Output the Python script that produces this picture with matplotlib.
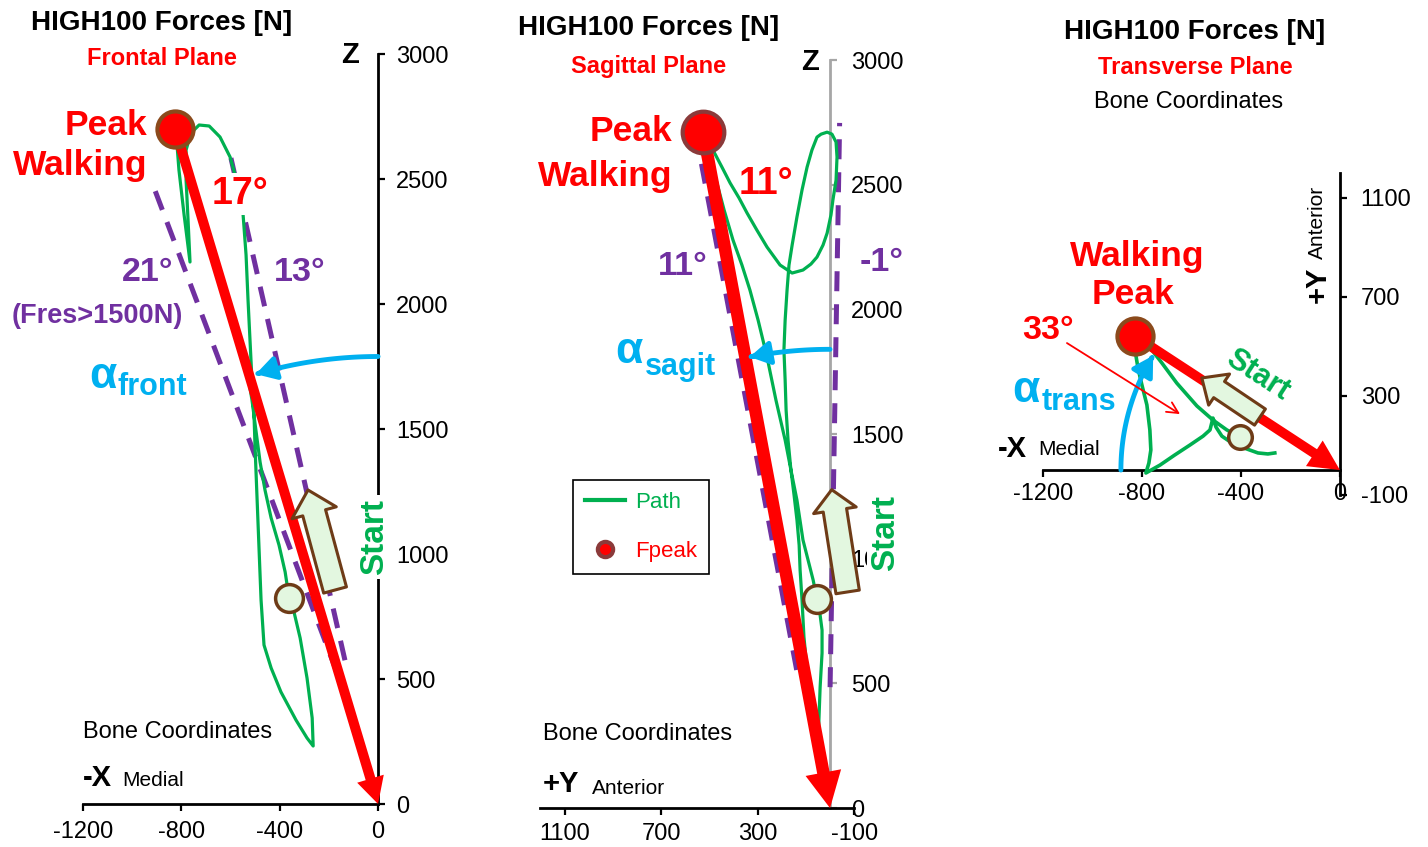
"""
HIGH100 - resultant knee force direction in three anatomical planes.
Frontal, sagittal and transverse projections of the force path during walking,
with the peak force vector, its angle and the angle range above 1500 N.
"""

import numpy as np
import matplotlib; matplotlib.use("Agg")
import matplotlib.pyplot as plt
from matplotlib.patches import FancyArrowPatch
from matplotlib.path import Path
from matplotlib.lines import Line2D

plt.rcParams["font.family"] = "Liberation Sans"
plt.rcParams["axes.unicode_minus"] = False

RED = "#FF0000"; GREEN = "#00B050"; PURPLE = "#7030A0"; CYAN = "#00B0F0"
BROWN = "#6E3B17"; PEAK_EDGE = "#8B4A1C"; MAROON = "#8B3A3A"
MINT = "#E3F7E0"; GRAY = "#A6A6A6"

W, H = 1428, 847

# ---------------- frontal plane: X (medial -) vs Z, [N] ----------------
FRONT_PEAK = (-825, 2700)
FRONT_START = (-362, 824)
FRONT_PATH_X = [-362, -378, -403, -435, -460, -480, -496, -513, -533, -570, -610, -651, -696, -736, -777, -810, -822,
                -810, -789, -765, -773, -781, -781,
                -761, -728, -687, -643, -602, -570, -549, -537, -529, -521, -513, -504, -500, -492, -484, -476,
                -464, -435, -395, -334, -289, -264,
                -268, -289, -317, -342, -362]
FRONT_PATH_Z = [824, 928, 1036, 1144, 1256, 1368, 1488, 1616, 1736, 1856, 1996, 2136, 2288, 2416, 2556, 2656, 2688,
                2536, 2356, 2168, 2336, 2496, 2616,
                2684, 2716, 2712, 2668, 2588, 2476, 2356, 2196, 2016, 1856, 1696, 1536, 1416, 1216, 1016, 816,
                636, 544, 448, 336, 264, 232,
                344, 504, 664, 768, 824]
FRONT_RANGE_DEG = [21, 13]             # angle range while Fres > 1500 N
FRONT_RANGE_MID = [(-545, 1510), (-367, 1581)]
FRONT_RANGE_Z = [(524, 2496), (575, 2588)]
FRONT_START_ARROW = [(-175, 856), (-285, 1256)]
FRONT_XTICKS = [-1200, -800, -400, 0]
FRONT_ZTICKS = [0, 500, 1000, 1500, 2000, 2500, 3000]

# ---------------- sagittal plane: Y (anterior +) vs Z, [N] ----------------
SAG_PEAK = (526, 2712)
SAG_START = (54, 838)
SAG_PATH_Y = [54, 70, 91, 112, 137, 162, 186, 224, 261, 298, 332, 365, 402, 439, 472, 506, 522,
              485, 448, 414, 377, 344, 303, 261, 207, 157, 112, 79, 54, 29, 12, -4, -12, -25, -29, -25, -8,
              12, 37, 54, 75, 95, 116, 137, 157, 170, 178, 186, 191, 186, 182, 174, 162, 149, 137, 128,
              124, 116, 108, 95, 79, 62, 50,
              46, 41, 33, 33, 41, 54]
SAG_PATH_Z = [838, 915, 995, 1075, 1235, 1356, 1476, 1636, 1809, 1957, 2078, 2178, 2278, 2399, 2519, 2639, 2699,
              2639, 2571, 2507, 2447, 2387, 2318, 2250, 2178, 2146, 2158, 2182, 2210, 2258, 2306, 2379, 2439,
              2519, 2611, 2671, 2703, 2711, 2703, 2691, 2639, 2571, 2479, 2371, 2258, 2178, 2078, 1957, 1837,
              1717, 1596, 1476, 1356, 1255, 1155, 1055, 955, 834, 686, 554, 433, 313, 233,
              353, 485, 622, 714, 774, 838]
SAG_RANGE_DEG = [11, -1]
SAG_RANGE_MID = [(338, 1582), (-20, 1616)]
SAG_RANGE_Z = [(554, 2611), (485, 2748)]
SAG_START_ARROW = [(-73, 867), (-7, 1277)]
SAG_XTICKS = [1100, 700, 300, -100]
SAG_ZTICKS = [0, 500, 1000, 1500, 2000, 2500, 3000]

# ---------------- transverse plane: X (medial -) vs Y (anterior +), [N] ----------------
TRANS_PEAK = (-828, 541)
TRANS_START = (-404, 133)
TRANS_PATH_X = [-404, -457, -513, -578, -659, -719, -760, -808, -828, -816, -800, -780, -768, -764, -772,
                -784, -727, -667, -606, -553, -525, -513, -501, -477, -436, -376, -331, -291, -263]
TRANS_PATH_Y = [133, 162, 202, 259, 351, 432, 485, 517, 485, 412, 343, 263, 162, 81, 28,
                -12, 20, 61, 101, 137, 162, 210, 174, 137, 109, 85, 69, 65, 69]
TRANS_START_ARROW = [(-323, 214), (-558, 372)]
TRANS_XTICKS = [-1200, -800, -400, 0]
TRANS_YTICKS = [-100, 300, 700, 1100]


def style_axes(ax, xlim, ylim, xticks, yticks, xbounds, ybounds, ycolor="black", xpad=7, ypad=8):
    ax.set_xlim(*xlim); ax.set_ylim(*ylim)
    ax.patch.set_visible(False)
    ax.spines[["left", "top"]].set_visible(False)
    ax.spines["right"].set_position(("data", 0))
    ax.spines["bottom"].set_position(("data", 0))
    ax.spines["right"].set_bounds(*ybounds)
    ax.spines["bottom"].set_bounds(*xbounds)
    ax.spines["right"].set_color(ycolor)
    ax.spines["right"].set_linewidth(2)
    ax.spines["bottom"].set_linewidth(2)
    ax.yaxis.tick_right()
    ax.set_xticks(xticks); ax.set_xticklabels([str(v) for v in xticks])
    ax.set_yticks(yticks); ax.set_yticklabels([str(v) for v in yticks])
    ax.tick_params(axis="x", direction="out", length=5, width=1.6, labelsize=17, pad=xpad)
    ax.tick_params(axis="y", direction="out", length=5, width=1.6, labelsize=17, pad=ypad, color=ycolor)


def force_arrow(ax, peak, tail_w, head_w, head_l, ms, edge):
    ax.add_patch(FancyArrowPatch(peak, (0, 0), mutation_scale=1, color=RED, lw=0,
                 arrowstyle=f"simple,head_length={head_l},head_width={head_w},tail_width={tail_w}",
                 shrinkA=0, shrinkB=0, zorder=5))
    ax.plot(*peak, "o", ms=ms, mfc=RED, mec=edge, mew=3, zorder=6)


def start_marker(ax, start, arrow, ms, tail_w, head_w, head_l):
    ax.plot(*start, "o", ms=ms, mfc=MINT, mec=BROWN, mew=2.5, zorder=6)
    ax.add_patch(FancyArrowPatch(arrow[0], arrow[1], mutation_scale=1, fc=MINT, ec=BROWN, lw=2.2,
                 arrowstyle=f"simple,head_length={head_l},head_width={head_w},tail_width={tail_w}",
                 shrinkA=0, shrinkB=0, zorder=6))


def alpha_arc(ax, r, phi0, peak):
    # arc about the origin from the reference axis towards the peak vector
    phi_peak = np.degrees(np.arctan2(peak[1], peak[0]))
    phi = np.radians(np.linspace(phi0, phi0 + 0.95 * (phi_peak - phi0), 60))
    verts = np.column_stack([r * np.cos(phi), r * np.sin(phi)])
    ax.add_patch(FancyArrowPatch(path=Path(verts), arrowstyle="-|>,head_length=1.2,head_width=0.7",
                 mutation_scale=10, color=CYAN, lw=3.5, zorder=6))


def range_line(ax, deg, mid, zr, horiz_sign):
    zs = np.array(zr, dtype=float)
    xs = mid[0] + horiz_sign * np.tan(np.radians(deg)) * (zs - mid[1])
    ax.plot(xs, zs, color=PURPLE, lw=3.6, ls=(0, (4, 2.6)), zorder=3)


def peak_angle(across, along):
    return f"{abs(np.degrees(np.arctan2(across, along))):.0f}°"


def alpha_label(ax, xy_alpha, xy_sub, sub):
    ax.text(*xy_alpha, "α", ha="center", va="center", fontsize=32, fontweight="bold", color=CYAN)
    ax.text(*xy_sub, sub, ha="left", va="center", fontsize=22, fontweight="bold", color=CYAN)


def titles(ax, x, y_title, y_plane, plane):
    ax.text(x, y_title, "HIGH100 Forces [N]", ha="center", va="center", fontsize=20, fontweight="bold")
    ax.text(x, y_plane, plane, ha="center", va="center", fontsize=17, fontweight="bold", color=RED)


fig = plt.figure(figsize=(14.28, 8.47), dpi=100)

# ---------- frontal ----------
ax = fig.add_axes([0, 0, 470 / W, 1])
style_axes(ax, (-1538, 374), (-172, 3216), FRONT_XTICKS, FRONT_ZTICKS, (-1200, 0), (0, 3000))
for deg, mid, zr in zip(FRONT_RANGE_DEG, FRONT_RANGE_MID, FRONT_RANGE_Z):
    range_line(ax, deg, mid, zr, -1)
ax.plot(FRONT_PATH_X, FRONT_PATH_Z, color=GREEN, lw=2.3, solid_joinstyle="round", zorder=4)
force_arrow(ax, FRONT_PEAK, 7.2, 20, 19, 26, PEAK_EDGE)
start_marker(ax, FRONT_START, FRONT_START_ARROW, 20, 17, 33, 17)
alpha_arc(ax, 1790, 90, FRONT_PEAK)
titles(ax, -879, 3124, 2984, "Frontal Plane")
ax.text(-114, 2996, "Z", ha="center", va="center", fontsize=21, fontweight="bold")
ax.text(-940, 2716, "Peak", ha="right", va="center", fontsize=25.5, fontweight="bold", color=RED)
ax.text(-940, 2556, "Walking", ha="right", va="center", fontsize=25.5, fontweight="bold", color=RED)
ax.text(-561, 2440, peak_angle(-FRONT_PEAK[0], FRONT_PEAK[1]), ha="center", va="center", fontsize=27,
        fontweight="bold", color=RED, zorder=7,
        bbox=dict(fc="white", ec="none", pad=2))
ax.text(-936, 2128, f"{FRONT_RANGE_DEG[0]}°", ha="center", va="center", fontsize=24.5, fontweight="bold", color=PURPLE)
ax.text(-317, 2128, f"{FRONT_RANGE_DEG[1]}°", ha="center", va="center", fontsize=24.5, fontweight="bold", color=PURPLE)
ax.text(-1143, 1952, "(Fres>1500N)", ha="center", va="center", fontsize=19.5, fontweight="bold", color=PURPLE)
alpha_label(ax, (-1119, 1712), (-1058, 1668), "front")
ax.text(-16, 1068, "Start", ha="center", va="center", rotation=90, fontsize=24, fontweight="bold", color=GREEN,
        zorder=7, bbox=dict(fc="white", ec="none", pad=3))
ax.text(-814, 288, "Bone Coordinates", ha="center", va="center", fontsize=17)
ax.text(-1143, 104, "-X", ha="center", va="center", fontsize=21, fontweight="bold")
ax.text(-915, 96, "Medial", ha="center", va="center", fontsize=15)

# ---------- sagittal ----------
ax = fig.add_axes([470 / W, 0, 520 / W, 1])
style_axes(ax, (1492, -663), (-156, 3241), SAG_XTICKS, SAG_ZTICKS, (-100, 1200), (0, 3000),
           ycolor=GRAY, xpad=6, ypad=10)
for deg, mid, zr in zip(SAG_RANGE_DEG, SAG_RANGE_MID, SAG_RANGE_Z):
    range_line(ax, deg, mid, zr, 1)
ax.plot(SAG_PATH_Y, SAG_PATH_Z, color=GREEN, lw=2.3, solid_joinstyle="round", zorder=4)
force_arrow(ax, SAG_PEAK, 9, 26, 26, 30, MAROON)
start_marker(ax, SAG_START, SAG_START_ARROW, 20, 17, 31, 15)
alpha_arc(ax, 1840, 90, SAG_PEAK)
titles(ax, 754, 3129, 2976, "Sagittal Plane")
ax.text(83, 2992, "Z", ha="center", va="center", fontsize=21, fontweight="bold")
ax.text(655, 2715, "Peak", ha="right", va="center", fontsize=25.5, fontweight="bold", color=RED)
ax.text(651, 2535, "Walking", ha="right", va="center", fontsize=25.5, fontweight="bold", color=RED)
ax.text(265, 2503, peak_angle(SAG_PEAK[0], SAG_PEAK[1]), ha="center", va="center", fontsize=27,
        fontweight="bold", color=RED, zorder=7)
ax.text(609, 2174, f"{SAG_RANGE_DEG[0]}°", ha="center", va="center", fontsize=24.5, fontweight="bold", color=PURPLE)
ax.text(-215, 2190, f"{SAG_RANGE_DEG[1]}°", ha="center", va="center", fontsize=24.5, fontweight="bold", color=PURPLE)
alpha_label(ax, (833, 1833), (767, 1769), "sagit")
ax.text(-232, 1103, "Start", ha="center", va="center", rotation=90, fontsize=24, fontweight="bold", color=GREEN,
        zorder=7, bbox=dict(fc="white", ec="none", pad=3))
ax.text(796, 297, "Bone Coordinates", ha="center", va="center", fontsize=17)
ax.text(1115, 96, "+Y", ha="center", va="center", fontsize=21, fontweight="bold")
ax.text(837, 80, "Anterior", ha="center", va="center", fontsize=15)
handles = [Line2D([], [], color=GREEN, lw=3),
           Line2D([], [], ls="none", marker="o", ms=11, mfc=RED, mec=MAROON, mew=3)]
leg = ax.legend(handles, ["Path", "Fpeak"], loc="upper left", bbox_to_anchor=(1065, 1316),
                bbox_transform=ax.transData, fontsize=16, labelcolor=[GREEN, RED], fancybox=False,
                edgecolor="black", framealpha=1, handlelength=1.8, borderpad=0.55, labelspacing=1.25,
                handletextpad=0.45, borderaxespad=0)
leg.get_frame().set_linewidth(1.2)

# ---------- transverse ----------
ax = fig.add_axes([990 / W, 0, 438 / W, 1])
style_axes(ax, (-1414, 356), (-1523, 1899), TRANS_XTICKS, TRANS_YTICKS, (-1200, 0), (-100, 1200),
           xpad=4, ypad=10)
ax.plot(TRANS_PATH_X, TRANS_PATH_Y, color=GREEN, lw=2.6, solid_joinstyle="round", zorder=4)
force_arrow(ax, TRANS_PEAK, 7, 22, 22, 26, PEAK_EDGE)
start_marker(ax, TRANS_START, TRANS_START_ARROW, 17, 14, 27, 15)
alpha_arc(ax, 885, 180, TRANS_PEAK)
titles(ax, -586, 1770, 1628, "Transverse Plane")
ax.text(-610, 1487, "Bone Coordinates", ha="center", va="center", fontsize=17)
ax.text(-820, 861, "Walking", ha="center", va="center", fontsize=25.5, fontweight="bold", color=RED)
ax.text(-836, 711, "Peak", ha="center", va="center", fontsize=25.5, fontweight="bold", color=RED)
ax.text(-1180, 562, peak_angle(TRANS_PEAK[1], -TRANS_PEAK[0]), ha="center", va="center", fontsize=24.5,
        fontweight="bold", color=RED)
ax.annotate("", xy=(-646, 226), xytext=(-1103, 513),
            arrowprops=dict(arrowstyle="->,head_length=0.8,head_width=0.4", color=RED, lw=1.3,
                            shrinkA=0, shrinkB=0), zorder=6)
alpha_label(ax, (-1269, 323), (-1204, 275), "trans")
ax.text(-331, 384, "Start", ha="center", va="center", rotation=-33, fontsize=22, fontweight="bold",
        color=GREEN, zorder=7)
ax.text(-1325, 85, "-X", ha="center", va="center", fontsize=21, fontweight="bold")
ax.text(-1095, 81, "Medial", ha="center", va="center", fontsize=15)
ax.text(-89, 747, "+Y", ha="center", va="center", rotation=90, fontsize=21, fontweight="bold")
ax.text(-89, 1002, "Anterior", ha="center", va="center", rotation=90, fontsize=15)

fig.savefig("out.png", dpi=100)
plt.close(fig)
